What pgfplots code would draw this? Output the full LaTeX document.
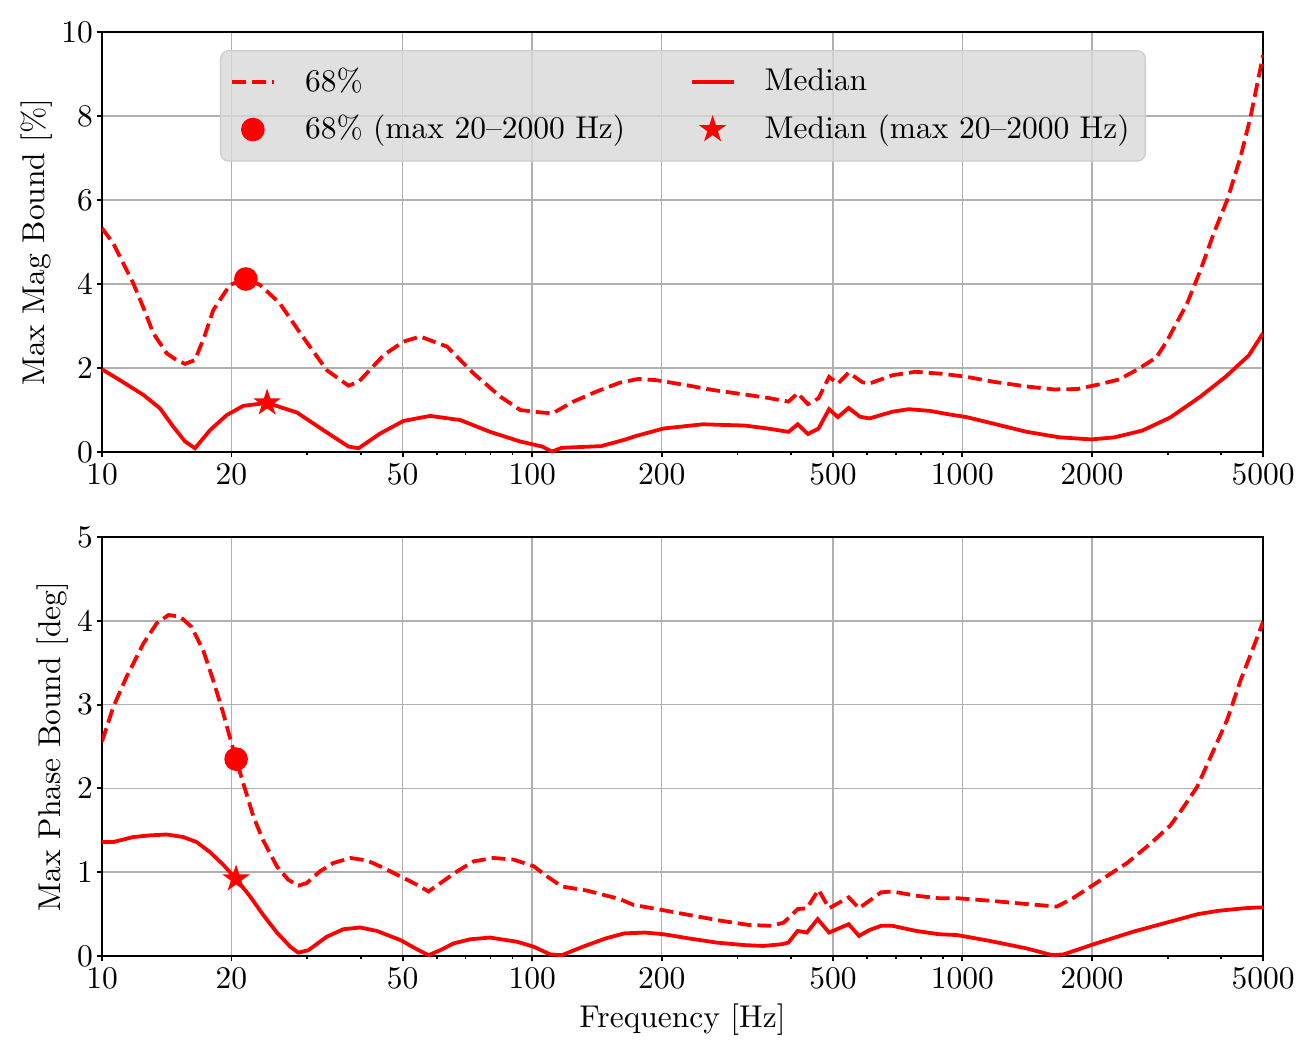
\documentclass[border=0pt]{standalone}
\usepackage{pgfplots}
\pgfplotsset{compat=1.18}
\definecolor{legfill}{HTML}{D8D8D8}
\definecolor{legdraw}{HTML}{CCCCCC}
\definecolor{gridc}{HTML}{B0B0B0}
\definecolor{myred}{HTML}{FF0000}

\pgfdeclareplotmark{fstar}{%
  \pgfpathmoveto{\pgfpointpolar{90}{\pgfplotmarksize}}%
  \pgfpathlineto{\pgfpointpolar{126}{0.382*\pgfplotmarksize}}%
  \pgfpathlineto{\pgfpointpolar{162}{\pgfplotmarksize}}%
  \pgfpathlineto{\pgfpointpolar{198}{0.382*\pgfplotmarksize}}%
  \pgfpathlineto{\pgfpointpolar{234}{\pgfplotmarksize}}%
  \pgfpathlineto{\pgfpointpolar{270}{0.382*\pgfplotmarksize}}%
  \pgfpathlineto{\pgfpointpolar{306}{\pgfplotmarksize}}%
  \pgfpathlineto{\pgfpointpolar{342}{0.382*\pgfplotmarksize}}%
  \pgfpathlineto{\pgfpointpolar{18}{\pgfplotmarksize}}%
  \pgfpathlineto{\pgfpointpolar{54}{0.382*\pgfplotmarksize}}%
  \pgfpathclose
  \pgfusepathqfill
}

\begin{document}
\begin{tikzpicture}
\path[use as bounding box] (-32.38pt,-192.06pt) rectangle (385.4pt,143.49pt);

\begin{axis}[
  xmode=log, xmin=10, xmax=5000,
  scale only axis, width=368.6pt, height=133.3pt,
  xtick={10,20,50,100,200,500,1000,2000,5000},
  xticklabels={10,20,50,100,200,500,1000,2000,5000},
  minor xtick={30,40,60,70,80,90,300,400,600,700,800,900,3000,4000},
  xmajorgrids, ymajorgrids,
  major grid style={gridc, line width=0.5pt},
  tick align=outside, tick pos=left,
  major tick length=1.6pt, minor tick length=1pt,
  every tick/.style={black, line width=0.6pt},
  axis line style={line width=0.6pt},
  xticklabel shift=-1.5pt, yticklabel shift=-2.2pt,
  ylabel shift=-4.1pt,
  ymin=0, ymax=10, ytick={0,2,4,6,8,10},
  ylabel={Max Mag Bound [\%]},
  legend columns=2,
  legend cell align=left,
  legend image code/.code={\draw[fill opacity=1,draw opacity=1,mark repeat=2,mark phase=2,#1] plot coordinates {(0pt,0pt) (6.65pt,0pt) (13.3pt,0pt)};},
  legend style={at={(0.1016,0.957)}, anchor=north west,
    fill=legfill, fill opacity=0.8, draw opacity=1, text opacity=1, draw=legdraw,
    rounded corners=2.5pt, inner xsep=3pt, inner ysep=3.5pt, row sep=2pt,
    /tikz/column 1/.style={column sep=7.3pt},
    /tikz/column 2/.style={column sep=18.5pt},
    /tikz/column 3/.style={column sep=7.3pt}},
]
\addplot[myred, line width=1.2pt, dash pattern=on 4.4pt off 1.9pt, no marks] coordinates {
(10,5.33)(10.62,4.97)(11.82,4.02)(12.5,3.42)(13.16,2.83)(14.14,2.35)(14.9,2.19)(15.6,2.10)(16.45,2.19)
(17.3,2.75)(18.14,3.38)(19.84,3.98)(21.6,4.12)(23.3,3.98)(25.9,3.54)(28.9,2.83)(33.3,1.95)(37.4,1.58)
(39.5,1.67)(45.2,2.31)(50.2,2.63)(54.9,2.75)(63.4,2.51)(73.1,1.87)(84.3,1.32)(93.8,1.00)
(103,0.95)(111.5,0.92)(124.6,1.20)(141.1,1.44)(159.7,1.65)(176.3,1.74)(194.7,1.71)(225.8,1.60)
(261.8,1.48)(311.5,1.37)(352.5,1.29)(394.3,1.20)(414.2,1.40)(437.4,1.14)(463.1,1.28)(489.9,1.79)
(513.6,1.63)(544,1.89)(585.9,1.66)(608.2,1.63)(688.3,1.83)(778.7,1.91)(903.7,1.86)(1023,1.79)
(1186,1.67)(1411,1.56)(1637,1.49)(1853,1.50)(2097,1.62)(2316,1.73)(2557,1.97)(2823,2.25)
(2991,2.65)(3330,3.54)(3577,4.33)(3841,5.21)(4126,6.0)(4432,7.03)(4675,7.98)(5000,9.45)
};
\addlegendentry{68\%}
\addplot[myred, line width=1.2pt, no marks] coordinates {
(10,1.97)(11.01,1.71)(12.48,1.36)(13.64,1.04)(14.65,0.60)(15.6,0.25)(16.45,0.09)(17.83,0.52)
(19.5,0.88)(21.3,1.10)(24.2,1.17)(28.4,0.94)(32.7,0.52)(37.4,0.13)(39.5,0.09)(44.3,0.44)
(50.2,0.74)(57.9,0.86)(68.1,0.76)(79.8,0.48)(93.8,0.25)(105.5,0.13)(111.1,0.01)(117.2,0.10)
(144.6,0.14)(163.7,0.29)(174.1,0.38)(202,0.56)(249.3,0.66)(311.5,0.63)(352.5,0.56)(394.3,0.48)
(414.2,0.66)(437.4,0.43)(463.1,0.56)(489.9,1.02)(513.6,0.83)(544,1.05)(578,0.84)(608,0.80)
(688,0.96)(750,1.02)(839,0.98)(926,0.90)(1023,0.83)(1186,0.67)(1411,0.48)(1679,0.35)
(1995,0.30)(2259,0.35)(2618,0.51)(3040,0.82)(3577,1.32)(4100,1.80)(4632,2.30)(5000,2.83)
};
\addlegendentry{Median}
\addplot[only marks, mark=*, mark size=3.55pt, myred, mark options={fill=myred, draw=myred}] coordinates {(21.6,4.12)};
\addlegendentry{68\% (max 20--2000 Hz)}
\addplot[only marks, mark=fstar, mark size=4.6pt, myred, mark options={fill=myred}] coordinates {(24.2,1.17)};
\addlegendentry{Median (max 20--2000 Hz)}
\end{axis}

\begin{axis}[
  at={(0pt,-160pt)}, anchor=south west,
  xmode=log, xmin=10, xmax=5000,
  scale only axis, width=368.6pt, height=133pt,
  xtick={10,20,50,100,200,500,1000,2000,5000},
  xticklabels={10,20,50,100,200,500,1000,2000,5000},
  minor xtick={30,40,60,70,80,90,300,400,600,700,800,900,3000,4000},
  xmajorgrids, ymajorgrids,
  major grid style={gridc, line width=0.5pt},
  tick align=outside, tick pos=left,
  major tick length=1.6pt, minor tick length=1pt,
  every tick/.style={black, line width=0.6pt},
  axis line style={line width=0.6pt},
  xticklabel shift=-1.5pt, yticklabel shift=-2.2pt,
  ylabel shift=-4.1pt, xlabel shift=-2.2pt,
  ymin=0, ymax=5, ytick={0,1,2,3,4,5},
  ylabel={Max Phase Bound [deg]},
  xlabel={Frequency [Hz]},
]
\addplot[myred, line width=1.2pt, dash pattern=on 4.4pt off 1.9pt, no marks] coordinates {
(10,2.56)(10.62,2.97)(11.4,3.33)(12.48,3.73)(13.4,3.97)(14.27,4.07)(15.18,4.05)(16.14,3.93)
(17.19,3.65)(18.14,3.29)(19.13,2.90)(20.0,2.54)(20.5,2.35)(21.3,2.06)(22.5,1.66)(23.7,1.38)
(25.5,1.07)(27.1,0.91)(28.6,0.84)(29.9,0.87)(32.1,1.01)(34.5,1.11)(37.8,1.17)(41.3,1.14)
(45.2,1.05)(49.4,0.95)(54.0,0.85)(57.4,0.77)(61.2,0.87)(66.9,1.01)(73.1,1.13)(81.3,1.17)
(90.6,1.15)(100.9,1.07)(108.3,0.95)(117.2,0.83)(134.3,0.78)(159.7,0.68)(172,0.61)(200,0.55)
(231.4,0.49)(275.3,0.42)(319.4,0.37)(361.4,0.36)(384.5,0.40)(414.2,0.56)(435,0.57)(463,0.79)
(490,0.57)(544,0.70)(575,0.57)(647,0.76)(688,0.77)(779,0.72)(881,0.69)(972,0.69)
(1158,0.66)(1411,0.62)(1658,0.59)(1807,0.69)(2045,0.87)(2415,1.11)(2735,1.34)(3046,1.56)
(3270,1.78)(3514,2.02)(3841,2.46)(4126,2.82)(4432,3.29)(4753,3.69)(5000,3.99)
};
\addplot[myred, line width=1.2pt, no marks] coordinates {
(10,1.36)(10.62,1.36)(11.82,1.42)(12.93,1.44)(14.14,1.45)(15.45,1.42)(16.6,1.36)(17.83,1.24)
(19.13,1.09)(20.5,0.92)(22.1,0.71)(23.7,0.49)(25.5,0.28)(27.4,0.11)(28.6,0.04)(30.2,0.07)
(33.3,0.23)(36.4,0.32)(39.8,0.34)(43.5,0.30)(49.4,0.19)(54.0,0.08)(57.4,0.01)(61.2,0.07)
(65.6,0.15)(71.8,0.20)(79.8,0.22)(92.2,0.17)(100.9,0.11)(110,0.02)(117.2,0.01)(131,0.11)
(148.2,0.21)(163.7,0.27)(183,0.28)(202,0.26)(231.4,0.21)(268.5,0.16)(311.5,0.13)(344,0.12)
(379.8,0.14)(394,0.16)(414,0.30)(435,0.28)(460.8,0.44)(490,0.28)(544,0.38)(575,0.24)
(608,0.31)(647,0.36)(688,0.36)(779,0.30)(881,0.26)(972,0.25)(1158,0.18)(1411,0.09)
(1617,0.01)(1720,0.02)(2045,0.15)(2494,0.29)(3040,0.41)(3526,0.50)(3943,0.54)(4517,0.57)
(4890,0.58)(5000,0.58)
};
\addplot[only marks, mark=*, mark size=3.55pt, myred, mark options={fill=myred, draw=myred}] coordinates {(20.5,2.35)};
\addplot[only marks, mark=fstar, mark size=4.6pt, myred, mark options={fill=myred}] coordinates {(20.5,0.92)};
\end{axis}
\end{tikzpicture}
\end{document}
